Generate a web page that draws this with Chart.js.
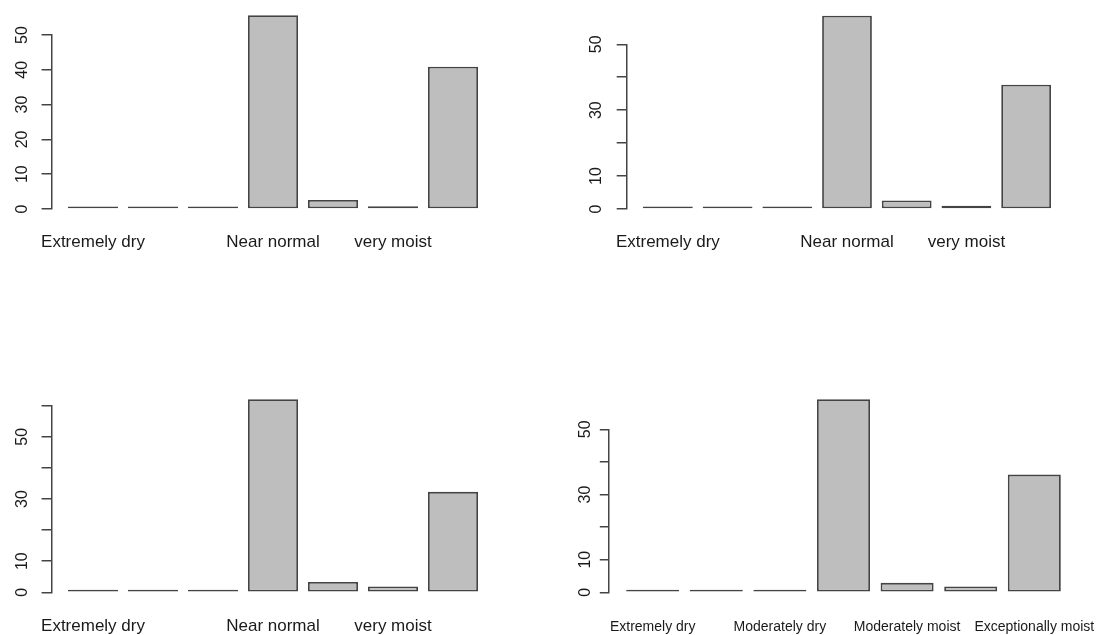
<!DOCTYPE html>
<html>
<head>
<meta charset="utf-8">
<script src="https://cdn.jsdelivr.net/npm/chart.js@4.4.1/dist/chart.umd.min.js"></script>
<style>
  html, body { margin: 0; padding: 0; background: #fff; }
  #wrap { position: relative; width: 1096px; height: 635px; overflow: hidden; }
  canvas { position: absolute; }
</style>
</head>
<body>
<div id="wrap">
  <canvas id="p1"></canvas>
  <canvas id="p2"></canvas>
  <canvas id="p3"></canvas>
  <canvas id="p4"></canvas>
</div>
<script>
/* ---------- data ---------- */
const CATEGORIES = ["Extremely dry", "Severely dry", "Moderately dry", "Near normal",
                    "Moderately moist", "very moist", "Exceptionally moist"];
const VALUES_1 = [0, 0, 0, 55.7, 2.6, 0.8, 40.9];
const VALUES_2 = [0, 0, 0, 58.7, 2.6, 1.0, 37.7];
const VALUES_3 = [0, 0, 0, 62.1, 3.3, 1.9, 32.3];
const VALUES_4 = [0, 0, 0, 59.2, 2.9, 1.8, 36.1];

const Y_TICKS_50 = [0, 10, 20, 30, 40, 50];
const Y_TICKS_60 = [0, 10, 20, 30, 40, 50, 60];
const Y_LABELS_ALL = [0, 10, 20, 30, 40, 50];
const Y_LABELS_SPARSE = [0, 10, 30, 50];
// R drops overlapping axis labels, so only some categories get a name
const X_SHOWN_3 = [0, 3, 5];
const X_SHOWN_4 = [0, 2, 4, 6];

/* ---------- look ---------- */
const INK = "#1a1a1a";
const LINE = "#444";
const BAR = "#bebebe";
const SANS = "'Liberation Sans', Arial, sans-serif";
const BAR_PCT = 5 / 6;          // R barplot: width 1, space 0.2

// page-pixel layout: canvas box [x, y, w, h] and plot area [left, top, right, bottom]
const PANELS = [
  { id: "p1", values: VALUES_1, yTicks: Y_TICKS_50, yLabels: Y_LABELS_ALL, xShown: X_SHOWN_3,
    box: [0, 0, 548, 318], area: [51.6, 35, 494.4, 209], tick: 10, yPad: 10.5, xPad: 23,
    xFont: { family: SANS, size: 17 } },
  { id: "p2", values: VALUES_2, yTicks: Y_TICKS_50, yLabels: Y_LABELS_SPARSE, xShown: X_SHOWN_3,
    box: [548, 0, 548, 318], area: [626.7, 44.3, 1067.3, 209], tick: 10, yPad: 11, xPad: 23,
    xFont: { family: SANS, size: 17 } },
  { id: "p3", values: VALUES_3, yTicks: Y_TICKS_60, yLabels: Y_LABELS_SPARSE, xShown: X_SHOWN_3,
    box: [0, 318, 548, 317], area: [51.6, 405.7, 494.4, 592.3], tick: 10, yPad: 10.5, xPad: 24,
    xFont: { family: SANS, size: 17 } },
  { id: "p4", values: VALUES_4, yTicks: Y_TICKS_50, yLabels: Y_LABELS_SPARSE, xShown: X_SHOWN_4,
    box: [548, 318, 548, 317], area: [608.8, 429.3, 1078.2, 592.3], tick: 9, yPad: 5, xPad: 26,
    xFont: { family: SANS, size: 14 } },
];

Chart.defaults.font.family = SANS;
Chart.defaults.color = INK;

PANELS.forEach(drawPanel);

function drawPanel(p) {
  const [bx, by, bw, bh] = p.box;
  const [al, at, ar, ab] = p.area;
  const cv = document.getElementById(p.id);
  cv.width = bw; cv.height = bh;
  cv.style.left = bx + "px"; cv.style.top = by + "px";

  // R pads the bar range by 4% on each side
  const n = CATEGORIES.length;
  const span = (n - 1) + BAR_PCT;
  const xMin = -BAR_PCT / 2 - 0.04 * span;
  const xMax = (n - 1) + BAR_PCT / 2 + 0.04 * span;

  new Chart(cv, {
    type: "bar",
    data: {
      datasets: [{
        data: p.values.map((v, i) => ({ x: i, y: v })),
        backgroundColor: BAR,
        borderColor: LINE,
        borderWidth: 1.8,
        borderSkipped: false,
        minBarLength: 2.5,
        barPercentage: BAR_PCT,
        categoryPercentage: 1,
        clip: false,
      }],
    },
    options: {
      responsive: false,
      animation: false,
      devicePixelRatio: 1,
      layout: { padding: { left: 0, top: at - by, right: bx + bw - ar, bottom: 0 } },
      plugins: { legend: { display: false }, tooltip: { enabled: false } },
      scales: {
        x: {
          type: "linear",
          offset: false,
          min: xMin, max: xMax,
          grid: { display: false, drawTicks: false },
          border: { display: false },
          afterBuildTicks: (s) => { s.ticks = CATEGORIES.map((_, i) => ({ value: i })); },
          afterFit: (s) => {
            s.height = by + bh - ab;
            s.paddingLeft = 0; s.paddingRight = 0;   // long labels may overhang
          },
          ticks: {
            autoSkip: false, minRotation: 0, maxRotation: 0,
            padding: p.xPad, color: INK, font: p.xFont,
            callback: (v) => p.xShown.includes(v) ? CATEGORIES[v] : "",
          },
        },
        y: {
          min: 0, max: p.yTicks[p.yTicks.length - 1],
          grid: { drawOnChartArea: false, drawTicks: true, tickLength: p.tick,
                  color: LINE, lineWidth: 1.5 },
          border: { display: true, color: LINE, width: 1.5 },
          afterBuildTicks: (s) => { s.ticks = p.yTicks.map((v) => ({ value: v })); },
          afterFit: (s) => {
            s.width = al - bx;
            s.paddingTop = 0; s.paddingBottom = 0;
          },
          ticks: {
            minRotation: 90, maxRotation: 90, crossAlign: "center",
            padding: p.yPad, color: INK, font: { family: SANS, size: 16 },
            callback: (v) => p.yLabels.includes(v) ? String(v) : "",
          },
        },
      },
    },
  });
}
</script>
</body>
</html>
